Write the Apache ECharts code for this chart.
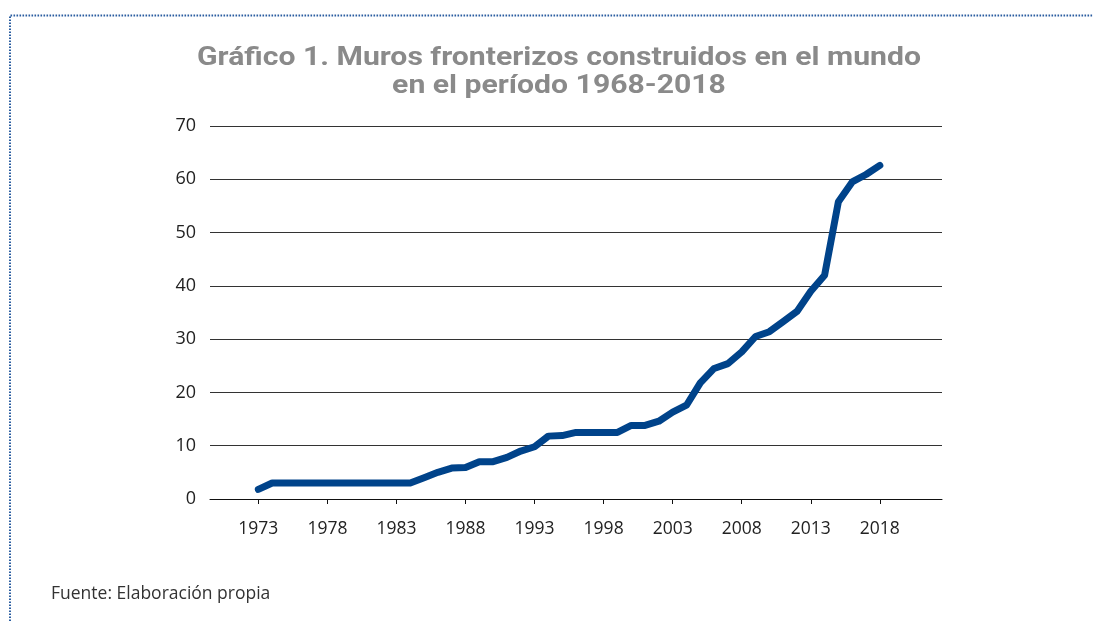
<!DOCTYPE html>
<html>
<head>
<meta charset="utf-8">
<script src="https://cdn.jsdelivr.net/npm/echarts@6/dist/echarts.min.js"></script>
<style>
html,body{margin:0;padding:0;background:#fff;}
#chart{width:1093px;height:621px;}
</style>
</head>
<body>
<div id="chart"></div>
<script>
const titleLines = ["Gráfico 1. Muros fronterizos construidos en el mundo", "en el período 1968-2018"];
const sourceText = "Fuente: Elaboración propia";
const years = [];
for (let y = 1970; y <= 2022; y++) years.push(String(y));
const labelYears = ["1973","1978","1983","1988","1993","1998","2003","2008","2013","2018"];
const dataYears = ["1973","1974","1975","1976","1977","1978","1979","1980","1981","1982","1983","1984","1985","1986","1987","1988","1989","1990","1991","1992","1993","1994","1995","1996","1997","1998","1999","2000","2001","2002","2003","2004","2005","2006","2007","2008","2009","2010","2011","2012","2013","2014","2015","2016","2017","2018"];
const walls = [1.8,3,3,3,3,3,3,3,3,3,3,3,4,5,5.8,5.9,7,7,7.8,9,9.8,11.8,11.9,12.5,12.5,12.5,12.5,13.8,13.8,14.6,16.3,17.6,21.8,24.5,25.4,27.6,30.5,31.4,33.3,35.2,39,42,55.8,59.5,60.9,62.6];
const yTicks = [0,10,20,30,40,50,60,70];

const seriesData = dataYears.map((y, i) => [y, walls[i]]);
const showLabel = (idx, val) => labelYears.indexOf(val) >= 0;

const chart = echarts.init(document.getElementById('chart'), null, {renderer: 'canvas'});
chart.setOption({
  animation: false,
  backgroundColor: '#fff',
  grid: {left: 210, right: 151, top: 126, bottom: 122, containLabel: false},
  xAxis: {
    type: 'category', data: years, boundaryGap: true,
    axisLine: {show: true, lineStyle: {color: '#111', width: 1}},
    axisTick: {show: true, alignWithLabel: true, interval: showLabel, length: 5, lineStyle: {color: '#111'}},
    axisLabel: {interval: showLabel, margin: 21, fontFamily: 'Open Sans', fontSize: 17.5, color: '#222'},
    splitLine: {show: false}
  },
  yAxis: {
    type: 'value', min: yTicks[0], max: yTicks[yTicks.length-1], interval: 10,
    axisLine: {show: false}, axisTick: {show: false},
    axisLabel: {margin: 14, fontFamily: 'Open Sans', fontSize: 18, color: '#222'},
    splitLine: {show: true, lineStyle: {color: '#333', width: 1}}
  },
  series: [{
    type: 'line', data: seriesData, showSymbol: false, symbol: 'none',
    lineStyle: {color: '#00438a', width: 7, cap: 'round', join: 'round'}
  }],
  graphic: [
    {type: 'polyline', shape: {points: [[10, 621], [10, 15.5], [1093, 15.5]]},
     style: {stroke: '#2a5da0', lineWidth: 2, fill: null, lineDash: [1.6, 1.4]}},
    {type: 'text', x: 559, y: 44, scaleX: 1.16, scaleY: 1,
     style: {text: titleLines.join('\n'), font: 'bold 26px Roboto', fill: '#8a8a8a', align: 'center', verticalAlign: 'top', lineHeight: 28}},
    {type: 'text', left: 51, top: 585,
     style: {text: sourceText, font: '17.5px "Open Sans"', fill: '#333'}}
  ]
});
</script>
</body>
</html>
